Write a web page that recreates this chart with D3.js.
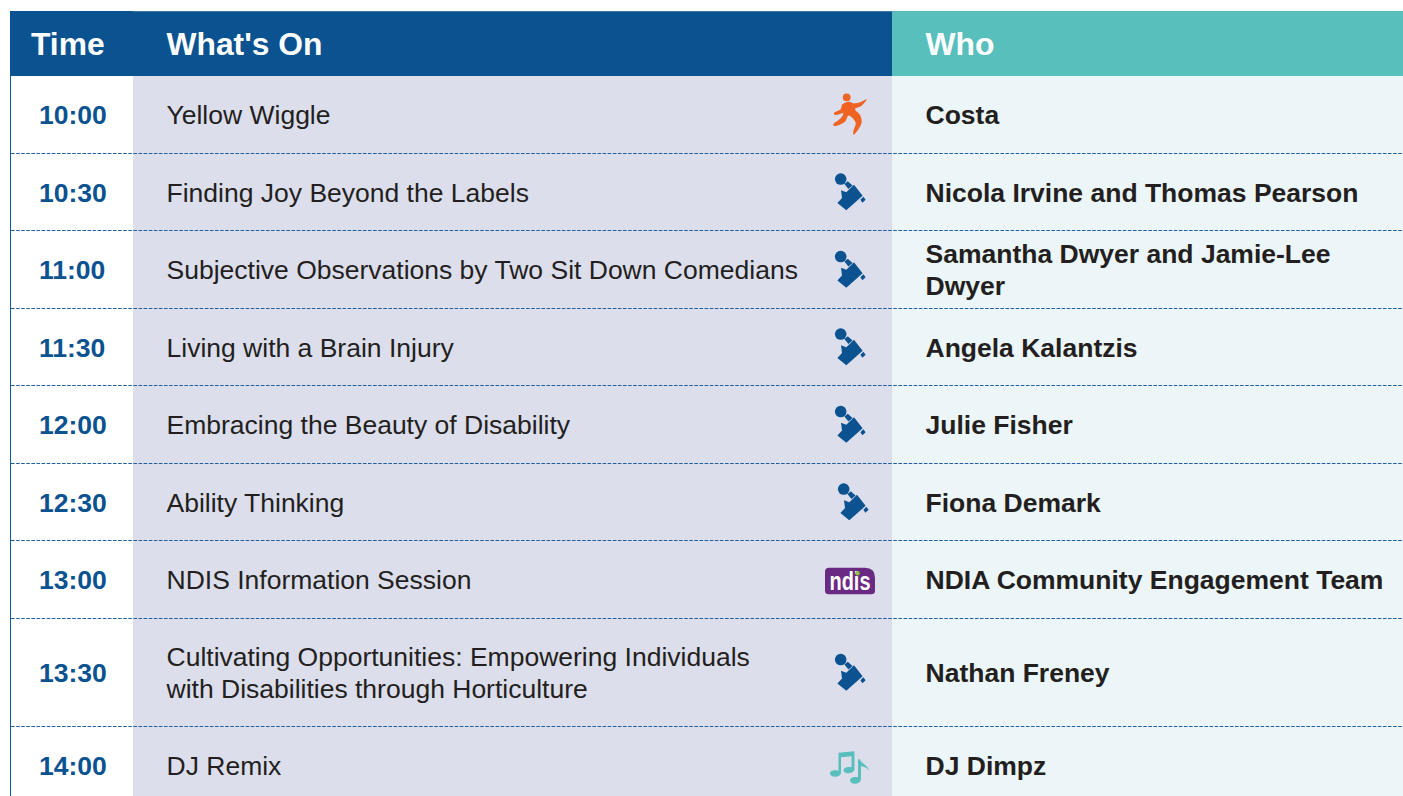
<!DOCTYPE html>
<html><head><meta charset="utf-8">
<script src="https://cdn.jsdelivr.net/npm/d3@7"></script>
<style>html,body{margin:0;padding:0;background:#fff;overflow:hidden}svg{display:block}</style>
</head><body><svg id="c" width="1403" height="796"></svg>
<script>
const headers = ["Time", "What's On", "Who"];
const times = ["10:00","10:30","11:00","11:30","12:00","12:30","13:00","13:30","14:00"];
const sessions = [["Yellow Wiggle"],["Finding Joy Beyond the Labels"],["Subjective Observations by Two Sit Down Comedians"],["Living with a Brain Injury"],["Embracing the Beauty of Disability"],["Ability Thinking"],["NDIS Information Session"],["Cultivating Opportunities: Empowering Individuals","with Disabilities through Horticulture"],["DJ Remix"]];
const presenters = [["Costa"],["Nicola Irvine and Thomas Pearson"],["Samantha Dwyer and Jamie-Lee","Dwyer"],["Angela Kalantzis"],["Julie Fisher"],["Fiona Demark"],["NDIA Community Engagement Team"],["Nathan Freney"],["DJ Dimpz"]];
const icons = ["dance","mic","mic","mic","mic","mic","ndis","mic","music"];
const rowSpans = [1,1,1,1,1,1,1,1.4,1];

const W=1403,H=796,FONT='"Liberation Sans",Arial,sans-serif';
const BLUE="#0b5290",TEAL="#58bfbd",LILAC="#dcdeec",PALE="#ecf5f8",INK="#231f20";
const svg=d3.select("#c");
const cum=[0]; rowSpans.forEach(s=>cum.push(cum[cum.length-1]+s));
const y=d3.scaleLinear().domain([0,1]).range([76,153.5]);
const n=times.length;
const rows=d3.range(n).map(i=>({i,y0:y(cum[i]),y1:y(cum[i+1]),mid:(y(cum[i])+y(cum[i+1]))/2,time:times[i],session:sessions[i],who:presenters[i],icon:icons[i]}));

svg.append("rect").attr("x",133).attr("y",76).attr("width",759).attr("height",H-76).attr("fill",LILAC);
svg.append("rect").attr("x",892).attr("y",76).attr("width",W-892).attr("height",H-76).attr("fill",PALE);
svg.append("rect").attr("x",10).attr("y",11).attr("width",882).attr("height",65).attr("fill",BLUE);
svg.append("rect").attr("x",133).attr("y",11).attr("width",759).attr("height",1).attr("fill","#3f75a8");
svg.append("rect").attr("x",892).attr("y",11).attr("width",W-892).attr("height",65).attr("fill",TEAL);
svg.append("line").attr("x1",10.5).attr("x2",10.5).attr("y1",76).attr("y2",H).attr("stroke","#0b5cab").attr("stroke-width",1);

const hx=[31,166.5,925.5];
svg.selectAll("text.h").data(headers).join("text").attr("class","h")
  .attr("x",(d,i)=>hx[i]).attr("y",54.5).attr("fill","#fff")
  .attr("font-family",FONT).attr("font-weight",700).attr("font-size",31.8).text(d=>d);

svg.selectAll("line.sep").data(rows.slice(0,-1)).join("line").attr("class","sep")
  .attr("x1",11).attr("x2",W).attr("y1",d=>Math.floor(d.y1-0.01)+0.5).attr("y2",d=>Math.floor(d.y1-0.01)+0.5)
  .attr("stroke","#1f60a0").attr("stroke-width",1).attr("stroke-dasharray","3.6 1.5");

const g=svg.selectAll("g.row").data(rows).join("g").attr("class","row");
g.append("text").attr("x",39).attr("y",d=>d.mid+9.5).attr("fill",BLUE)
  .attr("font-family",FONT).attr("font-weight",700).attr("font-size",26.5).text(d=>d.time);

function multi(sel,x,weight,accessor,fill,size){
  sel.each(function(d){
    const lines=accessor(d),lh=32;
    d3.select(this).selectAll("text.l").data(lines).join("text").attr("class","l")
      .attr("x",x).attr("y",(l,k)=>d.mid+9.5+(k-(lines.length-1)/2)*lh)
      .attr("fill",fill).attr("font-family",FONT).attr("font-weight",weight).attr("font-size",size).text(l=>l);
  });
}
multi(g.append("g"),166.5,400,d=>d.session,INK,26.5);
multi(g.append("g"),925.5,700,d=>d.who,INK,26.5);

const smooth=d3.line().curve(d3.curveCatmullRomClosed.alpha(0.5));
const draw={
 mic(s){
  s.attr("fill",BLUE);
  s.append("circle").attr("cx",-9.3).attr("cy",-13.2).attr("r",5.8);
  s.append("path").attr("d","M-5.6,-8.2 L-2.2,-11 L2.6,-6.8 L-1.6,-3.2Z");
  s.append("path").attr("d","M-9,-2 L-3.7,0 L4,-7.4 L12.6,3.6 L-3.7,18 L-12.6,10.8 L-8,5.8Z");
  s.append("path").attr("d","M10.4,7.4 L13.4,4.6 L15.6,7.4 L12.4,10.4Z");
 },
 dance(s){
  s.attr("fill","#ef6323");
  s.append("circle").attr("cx",-3.3).attr("cy",-17.4).attr("r",3.9);
  s.append("path").attr("d",smooth([[16.7,-15.4],[11.7,-9.1],[5,-5.75],[10,0.25],[11.7,6.9],[9,13.6],[3.7,19.9],[3.3,16.9],[5.7,8.6],[2.7,3.6],[-1.7,0.9],[-5,6.9],[-16,11.25],[-16.7,9.6],[-9.3,3.6],[-6.7,-1.4],[-15,0.25],[-16,-1.75],[-9.3,-5.4],[-7.7,-10.4],[-0.7,-13.1],[3.3,-11.4],[10,-12.4]]));
 },
 ndis(s){
  s.append("path").attr("fill","#6a2a84").attr("d","M-21,-12 H15 Q25,-12 25,-2 V11 Q25,14.5 21,14.5 H-21 Q-25,14.5 -25,11 V-8 Q-25,-12 -21,-12Z");
  s.append("text").attr("x",0).attr("y",10).attr("text-anchor","middle").attr("fill","#fff").attr("font-family",FONT).attr("font-weight",700).attr("font-size",25).attr("textLength",41).attr("lengthAdjust","spacingAndGlyphs").text("ndis");
  s.append("circle").attr("cx",7.5).attr("cy",-6.5).attr("r",2.2).attr("fill","#8cc63f");
 },
 music(s){
  s.attr("fill",TEAL);
  s.append("path").attr("d","M-11.5,-13 L4.5,-14.5 V3 C4.5,6 1,7.5 -2,7.5 C-5,7.5 -6.5,6 -6.5,4.5 C-6.5,2 -3,0.5 1.5,1.5 V-9.5 L-9,-8.5 V6.5 C-9,9.5 -12,11 -15,11 C-18,11 -20,9.5 -20,7.5 C-20,5 -16,4 -11.5,5Z");
  s.append("path").attr("d","M8,-6.5 H10 C11,-2 18,-1 19,5 C17,2 14.5,0.5 11,0.5 V13 C11,16 8,18 5,18 C2,18 0,16.5 0,14.5 C0,12 4,10.5 8,11.5Z");
 }
};
g.append("g").attr("transform",d=>`translate(${d.i===5?853:850},${d.mid})`)
 .each(function(d){draw[d.icon](d3.select(this));});
</script></body></html>
